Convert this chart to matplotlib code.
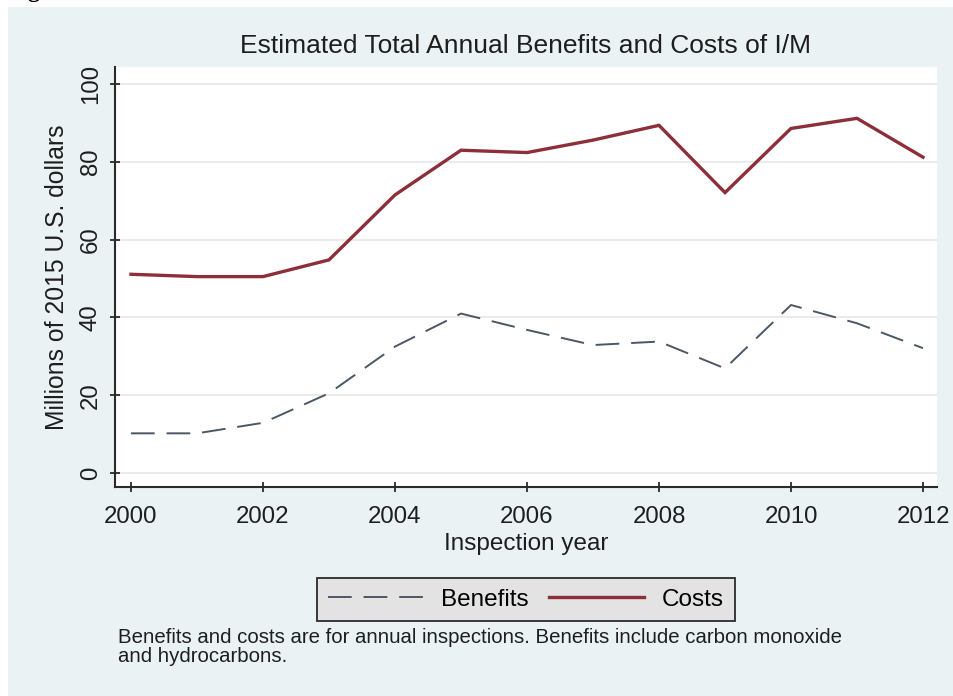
"""I/M program: estimated annual benefits vs costs, 2000-2012"""

import matplotlib
matplotlib.use("Agg")
import matplotlib.pyplot as plt
from matplotlib.patches import Rectangle

# inspection years and series (millions of 2015 U.S. dollars)
YEARS = [2000, 2001, 2002, 2003, 2004, 2005, 2006, 2007, 2008, 2009, 2010, 2011, 2012]
BENEFITS = [10.2, 10.2, 12.9, 20.5, 32.5, 41.0, 36.8, 32.9, 33.8, 26.9, 43.2, 38.5, 32.1]
COSTS = [51.1, 50.5, 50.5, 54.8, 71.5, 83.0, 82.4, 85.6, 89.4, 72.1, 88.6, 91.2, 81.2]

X_TICKS = [2000, 2002, 2004, 2006, 2008, 2010, 2012]
Y_TICKS = [0, 20, 40, 60, 80, 100]

TITLE = "Estimated Total Annual Benefits and Costs of I/M"
X_LABEL = "Inspection year"
Y_LABEL = "Millions of 2015 U.S. dollars"
NOTE = ("Benefits and costs are for annual inspections. Benefits include carbon monoxide\n"
        "and hydrocarbons.")

# colours
BG = "#eaf2f3"
NAVY = "#4a5866"
MAROON = "#8c2f39"
INK = "#1e1e1e"

plt.rcParams["font.family"] = ["Liberation Sans", "DejaVu Sans"]

W, H = 954, 696
fig = plt.figure(figsize=(W / 100, H / 100), dpi=100)
fig.patch.set_facecolor("white")

# graph region (leaves a thin white strip at top and left)
fig.patches.append(Rectangle((8 / W, 0), 1, 1 - 7 / H, transform=fig.transFigure,
                             facecolor=BG, edgecolor="none", zorder=-10))

# leftover heading from the page, only its descender shows
fig.text(8 / W, 1 + 3 / H, "Figure", fontsize=17, fontweight="bold",
         family="Liberation Serif", ha="left", va="baseline", color="black")

ax = fig.add_axes([115 / W, 1 - 487 / H, 822 / W, 420 / H])
ax.set_facecolor("white")

ax.plot(YEARS, BENEFITS, color=NAVY, lw=1.4, dashes=(12.2, 6.1), label="Benefits")
ax.plot(YEARS, COSTS, color=MAROON, lw=2.4, solid_joinstyle="miter", label="Costs")

ax.set_xlim(1999.758, 2012.212)
ax.set_ylim(-3.6, 104.4)
ax.set_xticks(X_TICKS)
ax.set_yticks(Y_TICKS)
ax.grid(axis="y", color="#e8e8e8", lw=1.2)
ax.set_axisbelow(True)

for side in ["top", "right"]:
    ax.spines[side].set_visible(False)
for side in ["left", "bottom"]:
    ax.spines[side].set_color("#2a2a2a")
    ax.spines[side].set_linewidth(1.5)

ax.tick_params(axis="both", direction="inout", length=7, width=1.3, color="#2a2a2a",
               labelsize=17.3, labelcolor=INK)
ax.tick_params(axis="x", pad=10)
ax.tick_params(axis="y", pad=6)
for lab in ax.get_yticklabels():
    lab.set_rotation(90)
    lab.set_va("center")

ax.set_title(TITLE, fontsize=19, color=INK, pad=10)
ax.set_xlabel(X_LABEL, fontsize=17.5, color=INK, labelpad=4)
ax.set_ylabel(Y_LABEL, fontsize=17.8, color=INK, labelpad=8)

leg = ax.legend(loc="center", bbox_to_anchor=(526 / W, 1 - 599.5 / H),
                bbox_transform=fig.transFigure, ncol=2, fontsize=17.5,
                frameon=True, fancybox=False, handlelength=3.9,
                handletextpad=0.74, columnspacing=0.85, borderpad=0.45)
leg.get_frame().set_facecolor("#e3e3e3")
leg.get_frame().set_edgecolor("#2a2a2a")
leg.get_frame().set_linewidth(1.3)
leg.get_frame().set_alpha(1)

fig.text(118 / W, 1 - 628 / H, NOTE, fontsize=14.7, color=INK, ha="left", va="top",
         linespacing=1.02)

fig.savefig("out.png", dpi=100, facecolor=fig.get_facecolor())
